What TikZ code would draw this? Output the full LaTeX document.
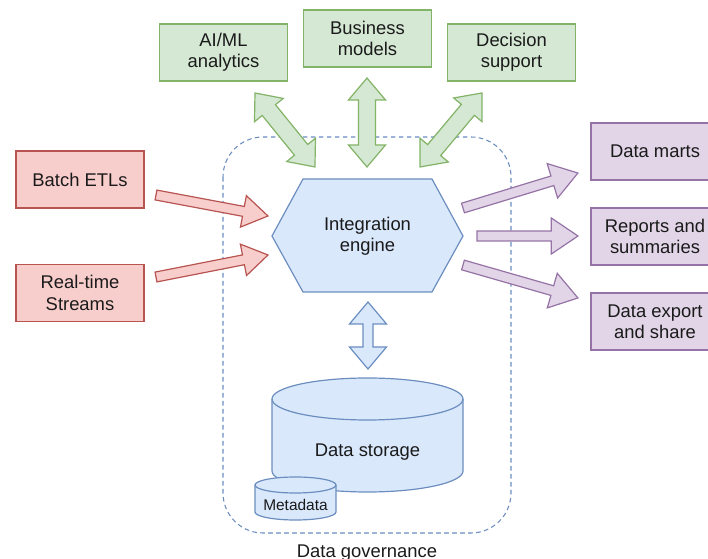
\documentclass[tikz,border=0pt]{standalone}
\usepackage{fontspec}
\setmainfont{Liberation Sans}
\usetikzlibrary{calc}
\definecolor{gfill}{HTML}{D5E8D4}\definecolor{gline}{HTML}{82B366}
\definecolor{rfill}{HTML}{F8CECC}\definecolor{rline}{HTML}{B85450}
\definecolor{pfill}{HTML}{E1D5E7}\definecolor{pline}{HTML}{9673A6}
\definecolor{bfill}{HTML}{DAE8FC}\definecolor{bline}{HTML}{6C8EBF}
\definecolor{txt}{HTML}{1A1A1A}
% single fat arrow: #1 tail, #2 tip, #3 style, #4 shaft half width, #5 head length, #6 head half width (pt)
\newcommand\fatarrow[6]{%
  \path let \p1=($(#2)-(#1)$) in \pgfextra{\pgfmathsetmacro\fa{atan2(\y1,\x1)}\pgfmathsetmacro\fl{veclen(\x1,\y1)}\xdef\FA{\fa}\xdef\FL{\fl}};
  \begin{scope}[shift={(#1)},rotate=\FA,x=1pt,y=1pt]
    \draw[#3] (0,-#4) -- ({\FL-#5},-#4) -- ({\FL-#5},-#6) -- (\FL,0) -- ({\FL-#5},#6) -- ({\FL-#5},#4) -- (0,#4) -- cycle;
  \end{scope}}
\newcommand\fatdarrow[6]{%
  \path let \p1=($(#2)-(#1)$) in \pgfextra{\pgfmathsetmacro\fa{atan2(\y1,\x1)}\pgfmathsetmacro\fl{veclen(\x1,\y1)}\xdef\FA{\fa}\xdef\FL{\fl}};
  \begin{scope}[shift={(#1)},rotate=\FA,x=1pt,y=1pt]
    \draw[#3] (0,0) -- (#5,#6) -- (#5,#4) -- ({\FL-#5},#4) -- ({\FL-#5},#6) -- (\FL,0) -- ({\FL-#5},-#6) -- ({\FL-#5},-#4) -- (#5,-#4) -- (#5,-#6) -- cycle;
  \end{scope}}
\begin{document}
\begin{tikzpicture}[x=0.75pt,y=-0.75pt,
  font=\fontsize{13.8}{16}\selectfont, text=txt,
  box/.style={draw, line width=0.9pt, minimum width=96pt, minimum height=42.75pt, align=center, inner sep=2pt},
  gbox/.style={box, fill=gfill, draw=gline},
  rbox/.style={box, fill=rfill, draw=rline},
  pbox/.style={box, fill=pfill, draw=pline},
  garr/.style={fill=gfill, draw=gline, line width=0.9pt, line join=miter},
  rarr/.style={fill=rfill, draw=rline, line width=0.9pt, line join=miter},
  parr/.style={fill=pfill, draw=pline, line width=0.9pt, line join=miter},
  barr/.style={fill=bfill, draw=bline, line width=0.9pt, line join=miter},
  bshape/.style={fill=bfill, draw=bline, line width=0.9pt},
]
\useasboundingbox (0,0) rectangle (708,559);

% governance frame
\draw[bline, line width=0.8pt, dash pattern=on 3.5pt off 2.5pt, rounded corners=30pt] (223,137) rectangle (511,533);
\node[anchor=base] (gov) at (367,558) {Data governance};

% top boxes
\node[gbox] (ai) at (223.5,52.5) {AI/ML\\analytics};
\node[gbox] (biz) at (367.5,38.5) {Business\\models};
\node[gbox] (dec) at (511.5,52.5) {Decision\\support};

% left boxes
\node[rbox] (batch) at (80,179.5) {Batch ETLs};
\node[rbox] (rt) at (80,293) {Real-time\\Streams};

% right boxes
\node[pbox] (marts) at (655,151.5) {Data marts};
\node[pbox] (rep) at (655,236.5) {Reports and\\summaries};
\node[pbox] (exp) at (655,321.5) {Data export\\and share};

% hexagon
\draw[bshape, line join=miter] (272,236) -- (303,179) -- (432,179) -- (463,236) -- (432,292) -- (303,292) -- cycle;
\node[align=center] (engine) at (367.5,236) {Integration\\engine};

% storage cylinder
\draw[bshape] (272,399) -- (272,471) arc[start angle=180,end angle=360,x radius=71.625pt,y radius=15.75pt] -- (463,399) arc[start angle=0,end angle=180,x radius=71.625pt,y radius=15.75pt] -- cycle;
\draw[bline, line width=0.9pt] (272,399) arc[start angle=180,end angle=360,x radius=71.625pt,y radius=15.75pt];
\node (storage) at (367.5,452) {Data storage};

% metadata cylinder
\draw[bshape] (255,485) -- (255,512) arc[start angle=180,end angle=360,x radius=30.375pt,y radius=6pt] -- (336,485) arc[start angle=0,end angle=180,x radius=30.375pt,y radius=6pt] -- cycle;
\draw[bline, line width=0.9pt] (255,485) arc[start angle=180,end angle=360,x radius=30.375pt,y radius=6pt];
\node[font=\fontsize{11.6}{13}\selectfont] (meta) at (295.5,505) {Metadata};

% connector end points
\coordinate (g1a) at (255,93);  \coordinate (g1b) at (315,167);
\coordinate (g2a) at (367,78);  \coordinate (g2b) at (367,167);
\coordinate (g3a) at (482,93);  \coordinate (g3b) at (420,167);
\coordinate (r1a) at (156,195); \coordinate (r1b) at (268,216);
\coordinate (r2a) at (156,277); \coordinate (r2b) at (268,255);
\coordinate (p1a) at (463,208); \coordinate (p1b) at (578,173);
\coordinate (p2a) at (477,236); \coordinate (p2b) at (578,236);
\coordinate (p3a) at (463,265); \coordinate (p3b) at (578,298);
\coordinate (b1a) at (368,302); \coordinate (b1b) at (368,369);

\fatdarrow{g1a}{g1b}{garr}{6.4}{16.5}{13.9}
\fatdarrow{g2a}{g2b}{garr}{6.4}{16.5}{13.9}
\fatdarrow{g3a}{g3b}{garr}{6.4}{16.5}{13.9}
\fatarrow{r1a}{r1b}{rarr}{3.75}{18.75}{12}
\fatarrow{r2a}{r2b}{rarr}{3.75}{18.75}{12}
\fatarrow{p1a}{p1b}{parr}{3.75}{20}{13.5}
\fatarrow{p2a}{p2b}{parr}{3.75}{20}{13.5}
\fatarrow{p3a}{p3b}{parr}{3.75}{20}{13.5}
\fatdarrow{b1a}{b1b}{barr}{3.75}{16.5}{13.9}
\end{tikzpicture}
\end{document}
